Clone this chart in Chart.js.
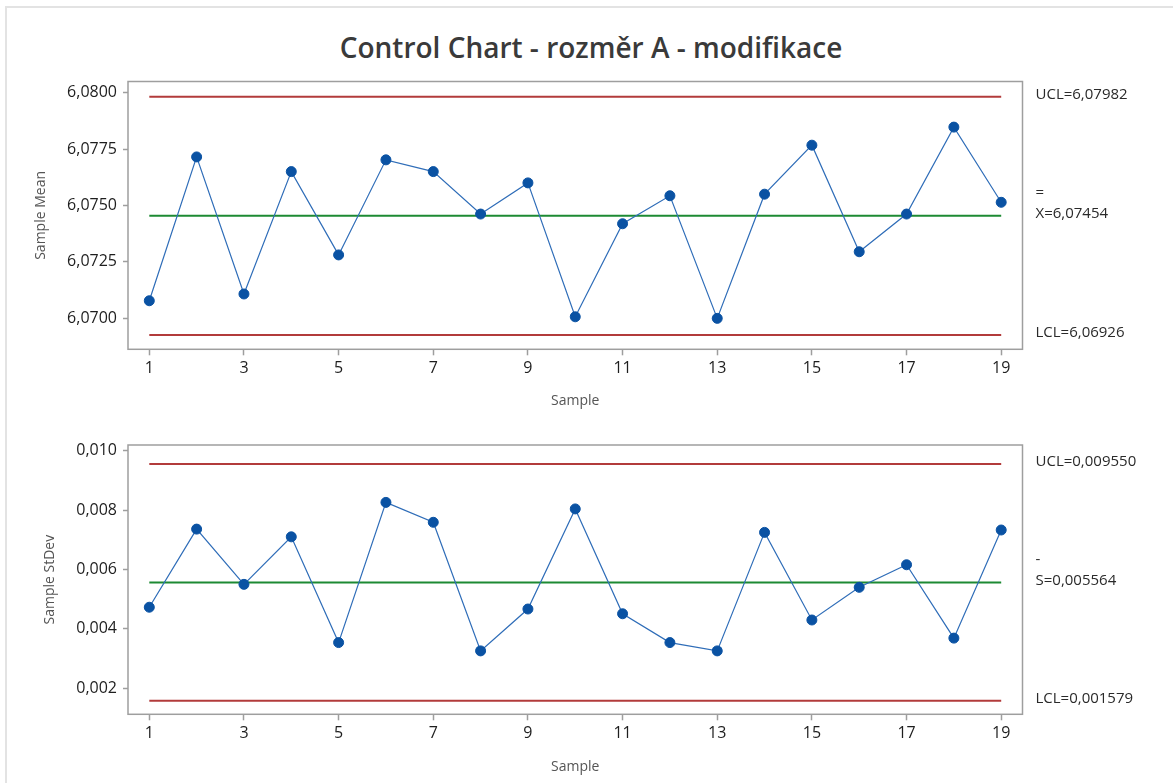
<!DOCTYPE html>
<html><head><meta charset="utf-8">
<script src="https://cdn.jsdelivr.net/npm/chart.js@4.4.1/dist/chart.umd.min.js"></script>
<style>
html,body{margin:0;padding:0;background:#fff;width:1173px;height:783px;overflow:hidden;}
#frame{position:absolute;left:5px;top:6px;width:1300px;height:900px;border-left:2px solid #e3e3e3;border-top:2px solid #e3e3e3;}
#title{position:absolute;left:0;width:1182px;top:29px;line-height:36px;text-align:center;font-family:"Open Sans";font-weight:600;font-size:28px;color:#3a3a3a;}
#c1{position:absolute;left:0;top:0;}
#c2{position:absolute;left:0;top:415px;}
</style></head><body>
<div id="frame"></div>
<div id="title">Control Chart - rozměr A - modifikace</div>
<canvas id="c1" width="1173" height="415"></canvas>
<canvas id="c2" width="1173" height="368"></canvas>
<script>
// ---- data ----
const samples = [1,2,3,4,5,6,7,8,9,10,11,12,13,14,15,16,17,18,19];
const sampleMeans = [6.07078, 6.07715, 6.07108, 6.07650, 6.07281, 6.07702, 6.07650, 6.07462, 6.07600, 6.07007,
                     6.07419, 6.07543, 6.07000, 6.07550, 6.07767, 6.07295, 6.07462, 6.07847, 6.07514];
const sampleStDevs = [0.00473, 0.00736, 0.00550, 0.00710, 0.00354, 0.00826, 0.00759, 0.00326, 0.00467, 0.00804,
                      0.00451, 0.00354, 0.00326, 0.00725, 0.00430, 0.00540, 0.00616, 0.00369, 0.00733];
const meanLimits = [6.07982, 6.07454, 6.06926];      // UCL, center (X double-bar), LCL
const stdevLimits = [0.009550, 0.005564, 0.001579];  // UCL, center (S bar), LCL
const meanLimitLabels = [['UCL=6,07982'], ['=', 'X=6,07454'], ['LCL=6,06926']];
const stdevLimitLabels = [['UCL=0,009550'], ['-', 'S=0,005564'], ['LCL=0,001579']];
const xTickValues = [1,3,5,7,9,11,13,15,17,19];
const meanTickValues = [6.0700, 6.0725, 6.0750, 6.0775, 6.0800];
const stdevTickValues = [0.002, 0.004, 0.006, 0.008, 0.010];

const FONT = '"Open Sans", "Noto Sans", sans-serif';
const comma = (v, d) => v.toFixed(d).replace('.', ',');

const boxPlugin = {
  id: 'box',
  afterDraw(chart, args, opts) {
    const {ctx, chartArea: a} = chart;
    ctx.save();
    ctx.strokeStyle = '#9e9e9e';
    ctx.lineWidth = 1.5;
    ctx.strokeRect(a.left, a.top, a.right - a.left, a.bottom - a.top);
    // right-side limit labels
    const ys = chart.scales.y;
    ctx.fillStyle = '#2a2a2a';
    ctx.font = '15px ' + FONT;
    ctx.textAlign = 'left';
    ctx.textBaseline = 'middle';
    opts.values.forEach((v, i) => {
      const lines = opts.labels[i];
      const y = ys.getPixelForValue(v) - 2;
      const x = a.right + 13;
      if (lines.length === 2) {
        ctx.fillText(lines[0], x, y - 21);
        ctx.fillText(lines[1], x, y);
      } else {
        ctx.fillText(lines[0], x, y);
      }
    });
    ctx.restore();
  }
};

function makeChart(id, values, limits, limitLabels, yTicks, decimals, yMin, yMax, cfg) {
  const limitColors = ['#b23b3b', '#1d8a33', '#b23b3b'];
  const datasets = [{
    data: samples.map((s, i) => ({x: s, y: values[i]})),
    showLine: true,
    borderColor: '#2f6db8',
    borderWidth: 1.2,
    pointRadius: 5,
    pointHoverRadius: 5,
    pointBackgroundColor: '#0a52a3',
    pointBorderColor: '#0a52a3',
    pointBorderWidth: 1
  }];
  limits.forEach((v, i) => datasets.push({
    data: [{x: samples[0], y: v}, {x: samples[samples.length - 1], y: v}],
    showLine: true,
    borderColor: limitColors[i],
    borderWidth: 2,
    pointRadius: 0
  }));
  return new Chart(document.getElementById(id), {
    type: 'scatter',
    data: {datasets},
    plugins: [boxPlugin],
    options: {
      responsive: false,
      animation: false,
      events: [],
      layout: {padding: {left: 0, right: 150.5, top: cfg.top, bottom: 0}},
      plugins: {
        legend: {display: false},
        tooltip: {enabled: false},
        box: {values: limits, labels: limitLabels}
      },
      scales: {
        x: {
          type: 'linear',
          min: 0.55, max: 19.45,
          afterBuildTicks: ax => { ax.ticks = xTickValues.map(v => ({value: v})); },
          afterFit: sc => { sc.height = cfg.xHeight; },
          border: {display: false},
          grid: {drawOnChartArea: false, drawTicks: true, tickLength: 6, tickColor: '#9e9e9e', tickWidth: 1.5},
          ticks: {font: {family: FONT, size: 16}, color: '#1e1e1e', padding: 4, autoSkip: false, maxRotation: 0,
                  callback: v => String(v)},
          title: {display: true, text: 'Sample', font: {family: FONT, size: 14}, color: '#555',
                  padding: {top: 0, bottom: cfg.xTitlePad}}
        },
        y: {
          type: 'linear',
          min: yMin, max: yMax,
          afterBuildTicks: ax => { ax.ticks = yTicks.map(v => ({value: v})); },
          afterFit: sc => { sc.width = 128; },
          border: {display: false},
          grid: {drawOnChartArea: false, drawTicks: true, tickLength: 5, tickColor: '#9e9e9e', tickWidth: 1.5},
          ticks: {font: {family: FONT, size: 16}, color: '#1e1e1e', padding: 6,
                  callback: v => comma(v, decimals)},
          title: {display: true, text: cfg.yTitle, font: {family: FONT, size: 14}, color: '#555',
                  padding: {top: cfg.yTitlePad, bottom: 0}}
        }
      }
    }
  });
}

makeChart('c1', sampleMeans, meanLimits, meanLimitLabels, meanTickValues, 4, 6.06863, 6.08049,
  {top: 81.5, xHeight: 65.7, xTitlePad: 6, yTitle: 'Sample Mean', yTitlePad: 33});
makeChart('c2', sampleStDevs, stdevLimits, stdevLimitLabels, stdevTickValues, 3, 0.001125, 0.010192,
  {top: 30, xHeight: 68.7, xTitlePad: 8, yTitle: 'Sample StDev', yTitlePad: 42});
</script>
</body></html>
